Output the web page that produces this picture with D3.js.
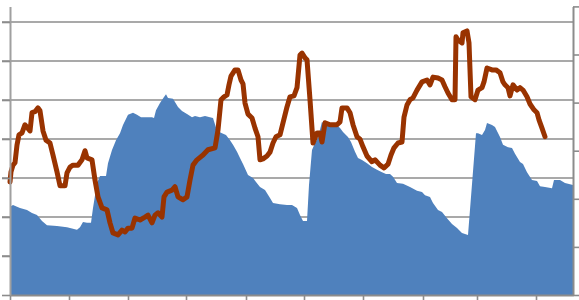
<!DOCTYPE html>
<html>
<head>
<meta charset="utf-8">
<script src="https://cdn.jsdelivr.net/npm/d3@7"></script>
<style>
  body { margin: 0; background: #fff; }
  svg { display: block; }
</style>
</head>
<body>
<script>
// period index along the x axis (shared by both series)
var areaPeriods = [0,3,7,10,17,22,27,32,37,47,57,67,70,73,77,81,83,87,90,96,98,102,106,110,113,118,123,127,131,136,142,144,146,150,154,156,158,163,168,172,177,182,185,190,195,200,203,207,212,216,220,223,227,230,233,238,243,246,250,255,260,263,270,277,282,287,290,293,297,299,302,305,308,312,315,320,327,330,333,338,341,345,348,352,357,362,367,372,376,380,383,387,393,400,407,412,415,420,423,428,432,437,442,447,452,458,466,468,472,475,477,482,485,490,493,498,502,505,510,513,517,522,527,530,535,542,544,550,555,563];
// blue area, left axis
var areaValues = [2.26,2.31,2.26,2.23,2.18,2.10,2.05,1.90,1.79,1.77,1.74,1.67,1.74,1.87,1.85,1.85,2.23,2.87,3.05,3.05,3.38,3.72,3.97,4.15,4.36,4.62,4.67,4.62,4.56,4.56,4.56,4.54,4.74,4.92,5.08,5.15,5.05,5.03,4.82,4.72,4.64,4.56,4.59,4.56,4.59,4.56,4.54,4.21,4.15,4.10,3.97,3.85,3.67,3.51,3.36,3.08,3.00,2.90,2.77,2.69,2.49,2.36,2.33,2.31,2.31,2.23,2.05,1.90,1.90,2.82,3.72,3.90,4.03,4.44,4.33,4.36,4.36,4.28,4.18,4.05,3.92,3.67,3.51,3.46,3.38,3.28,3.21,3.15,3.10,3.10,3.03,2.87,2.85,2.77,2.67,2.64,2.56,2.51,2.36,2.18,2.13,1.97,1.82,1.72,1.59,1.54,4.15,4.15,4.10,4.23,4.41,4.36,4.31,4.05,3.85,3.79,3.77,3.62,3.41,3.36,3.15,2.95,2.92,2.79,2.77,2.74,2.95,2.95,2.87,2.82];

var linePeriods = [0,1,3,5,7,9,12,15,17,20,22,25,28,30,33,36,40,43,47,50,55,57,60,63,68,72,75,77,82,85,88,92,97,100,103,108,112,115,118,122,125,130,135,138,142,145,148,152,154,157,162,165,168,173,177,180,183,187,193,198,205,208,211,214,217,219,221,225,228,231,233,235,238,242,245,248,250,253,257,260,263,266,270,273,277,280,284,287,290,292,295,297,300,303,307,310,312,315,320,327,330,332,337,340,343,347,350,353,357,362,365,370,374,378,381,384,388,392,394,397,400,403,407,412,417,420,423,428,432,435,438,442,445,446,448,452,453,457,459,461,465,468,472,474,477,482,486,490,493,495,498,500,503,507,510,513,517,520,524,527,529,532,535];
// brown line, right axis
var lineValues = [2.35,2.56,2.70,2.75,3.12,3.33,3.37,3.54,3.49,3.41,3.79,3.81,3.89,3.83,3.41,3.22,3.16,2.91,2.56,2.27,2.27,2.54,2.66,2.70,2.70,2.81,3.00,2.85,2.81,2.39,2.04,1.81,1.77,1.50,1.29,1.25,1.35,1.31,1.39,1.39,1.60,1.56,1.62,1.66,1.50,1.66,1.71,1.62,2.04,2.14,2.18,2.25,2.04,1.98,2.04,2.39,2.70,2.81,2.91,3.02,3.06,3.43,4.06,4.12,4.16,4.37,4.55,4.68,4.68,4.47,4.39,3.99,3.76,3.68,3.47,3.29,2.81,2.83,2.89,2.97,3.16,3.29,3.33,3.58,3.91,4.12,4.14,4.31,4.99,5.03,4.93,4.89,4.06,3.16,3.37,3.37,3.18,3.58,3.54,3.54,3.60,3.89,3.89,3.79,3.54,3.29,3.24,3.08,2.89,2.77,2.81,2.70,2.64,2.72,2.91,3.06,3.16,3.18,3.70,3.95,4.06,4.10,4.26,4.43,4.47,4.37,4.53,4.51,4.47,4.33,4.20,4.06,4.06,5.37,5.30,5.24,5.45,5.49,5.24,4.12,4.06,4.26,4.31,4.43,4.72,4.68,4.68,4.62,4.43,4.37,4.31,4.14,4.37,4.26,4.31,4.26,4.12,3.97,3.85,3.79,3.64,3.47,3.29];

var xTickValues = [0, 59, 118, 176, 236, 294, 353, 413, 467, 526];
var leftTickValues = [0, 1, 2, 3, 4, 5, 6, 7];
var rightTickValues = [0, 1, 2, 3, 4, 5, 6];

var width = 579, height = 300;
var plotLeft = 10, plotRight = 573, plotTop = 6.4, plotBottom = 295;

var svg = d3.select("body").append("svg")
  .attr("width", width)
  .attr("height", height);

var x = d3.scaleLinear().domain([0, 563]).range([plotLeft, plotRight]);
var yLeft = d3.scaleLinear().domain([0, 7.4]).range([plotBottom, plotTop]);
var yRight = d3.scaleLinear().domain([0, 6]).range([plotBottom, plotTop]);

var gridColor = "#8c8c8c";

// horizontal gridlines (left axis ticks run into them)
svg.append("g")
  .selectAll("line")
  .data(leftTickValues.slice(1))
  .enter().append("line")
  .attr("x1", plotLeft - 8)
  .attr("x2", plotRight)
  .attr("y1", function(d) { return yLeft(d); })
  .attr("y2", function(d) { return yLeft(d); })
  .attr("stroke", gridColor)
  .attr("stroke-width", 1.6);

// area series
var areaData = areaPeriods.map(function(p, i) { return { p: p, v: areaValues[i] }; });
svg.append("path")
  .datum(areaData)
  .attr("fill", "#4f81bd")
  .attr("d", d3.area()
    .x(function(d) { return x(d.p); })
    .y0(yLeft(0))
    .y1(function(d) { return yLeft(d.v); }));

// line series
var lineData = linePeriods.map(function(p, i) { return { p: p, v: lineValues[i] }; });
svg.append("path")
  .datum(lineData)
  .attr("fill", "none")
  .attr("stroke", "#993300")
  .attr("stroke-width", 5)
  .attr("stroke-linejoin", "round")
  .attr("stroke-linecap", "round")
  .attr("d", d3.line()
    .x(function(d) { return x(d.p); })
    .y(function(d) { return yRight(d.v); }));

// axes
var xAxis = d3.axisBottom(x).tickValues(xTickValues).tickSize(6).tickSizeOuter(0).tickFormat("");
var gx = svg.append("g").attr("transform", "translate(0," + plotBottom + ")").call(xAxis);

var leftAxis = d3.axisLeft(yLeft).tickValues(leftTickValues).tickSize(8).tickSizeOuter(0).tickFormat("");
var gl = svg.append("g").attr("transform", "translate(" + plotLeft + ",0)").call(leftAxis);

var rightAxis = d3.axisRight(yRight).tickValues(rightTickValues).tickSize(7).tickSizeOuter(0).tickFormat("");
var gr = svg.append("g").attr("transform", "translate(" + plotRight + ",0)").call(rightAxis);

[gx, gl, gr].forEach(function(g) {
  g.selectAll("path").attr("stroke", gridColor).attr("stroke-width", 2).attr("fill", "none");
  g.selectAll("line").attr("stroke", gridColor).attr("stroke-width", 1.6);
});
gl.select(".domain").attr("stroke", "#a0a0a0");
</script>
</body>
</html>
